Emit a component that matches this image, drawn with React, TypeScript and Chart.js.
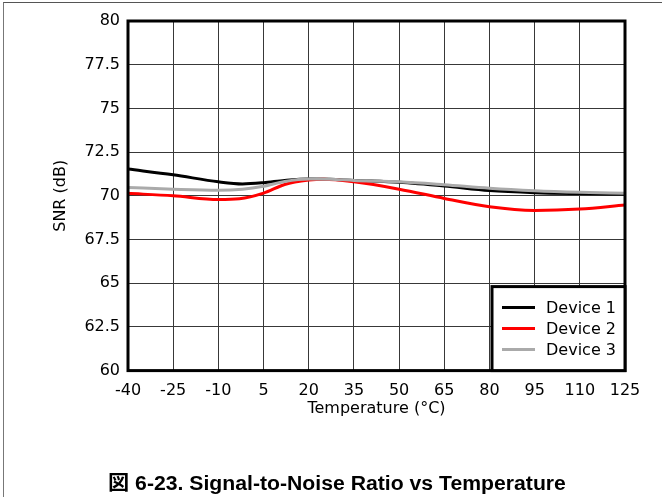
import React, { useEffect, useRef } from "react";
import { Chart, registerables } from "chart.js";

Chart.register(...registerables);

const seriesLabels = ["Device 1", "Device 2", "Device 3"];
const seriesColors = ["#000000", "#ff0000", "#aaaaaa"];

const device1Temp = [-40, -25, -10, -2, 5, 12, 20, 27, 35, 50, 65, 80, 95, 110, 125];
const device1Snr = [71.53, 71.2, 70.8, 70.68, 70.75, 70.88, 70.96, 70.95, 70.88, 70.77, 70.56, 70.3, 70.18, 70.13, 70.1];

const device2Temp = [-40, -25, -10, -3, 5, 12, 20, 25, 35, 50, 65, 80, 95, 110, 125];
const device2Snr = [70.14, 70.0, 69.79, 69.83, 70.15, 70.65, 70.9, 70.95, 70.8, 70.38, 69.85, 69.37, 69.16, 69.24, 69.47];

const device3Temp = [-40, -25, -10, -2, 5, 12, 20, 27, 35, 50, 65, 80, 95, 110, 125];
const device3Snr = [70.48, 70.38, 70.32, 70.38, 70.55, 70.82, 70.96, 70.95, 70.88, 70.8, 70.63, 70.43, 70.29, 70.2, 70.14];

const xTicks = [-40, -25, -10, 5, 20, 35, 50, 65, 80, 95, 110, 125];
const yTicks = [60, 62.5, 65, 67.5, 70, 72.5, 75, 77.5, 80];

const xTitle = "Temperature (°C)";
const yTitle = "SNR (dB)";
const caption = "図 6-23. Signal-to-Noise Ratio vs Temperature";

const FONT = "'DejaVu Sans', 'Liberation Sans', Arial, sans-serif";

const frameAndLegend = {
  id: "frameAndLegend",
  afterDatasetsDraw(chart: any) {
    const { ctx, chartArea } = chart;
    const { left, top, right, bottom } = chartArea;
    ctx.save();
    ctx.strokeStyle = "#000";
    ctx.lineWidth = 3;
    ctx.strokeRect(left, top, right - left, bottom - top);

    // legend box
    const bw = 133;
    const bh = 84;
    const bx = right - bw;
    const by = bottom - bh;
    ctx.fillStyle = "#fff";
    ctx.fillRect(bx, by, bw, bh);
    ctx.lineWidth = 3;
    ctx.strokeRect(bx, by, bw, bh);

    ctx.font = "16px " + FONT;
    ctx.textBaseline = "middle";
    ctx.textAlign = "left";
    chart.data.datasets.forEach((ds: any, i: number) => {
      const y = by + 21 + i * 21;
      ctx.strokeStyle = ds.borderColor;
      ctx.lineWidth = 3;
      ctx.beginPath();
      ctx.moveTo(bx + 10, y);
      ctx.lineTo(bx + 43, y);
      ctx.stroke();
      ctx.fillStyle = "#000";
      ctx.fillText(ds.label, bx + 54, y + 1);
    });
    ctx.restore();
  },
};

export default function App() {
  const ref = useRef<HTMLCanvasElement | null>(null);

  useEffect(() => {
    if (!ref.current) return;
    const temps = [device1Temp, device2Temp, device3Temp];
    const snrs = [device1Snr, device2Snr, device3Snr];
    const chart = new Chart(ref.current, {
      type: "line",
      data: {
        datasets: seriesLabels.map((label, i) => ({
          label,
          data: temps[i].map((t, j) => ({ x: t, y: snrs[i][j] })),
          borderColor: seriesColors[i],
          backgroundColor: seriesColors[i],
          borderWidth: 3,
          pointRadius: 0,
          cubicInterpolationMode: "monotone" as const,
          fill: false,
          order: 2 - i,
        })),
      },
      options: {
        responsive: false,
        animation: false,
        layout: { padding: { left: 40, right: 37, top: 21, bottom: 78.4 } },
        plugins: {
          legend: { display: false },
          tooltip: { enabled: false },
        },
        scales: {
          x: {
            type: "linear",
            min: -40,
            max: 125,
            afterBuildTicks: (scale: any) => {
              scale.ticks = xTicks.map((v) => ({ value: v }));
            },
            afterFit: (scale: any) => {
              scale.height = 48;
            },
            grid: { color: "#383838", lineWidth: 1, drawTicks: false },
            border: { display: false },
            ticks: {
              color: "#000",
              padding: 11,
              maxRotation: 0,
              autoSkip: false,
              font: { family: FONT, size: 16 },
            },
            title: {
              display: true,
              text: xTitle,
              color: "#000",
              padding: 0,
              font: { family: FONT, size: 16 },
            },
          },
          y: {
            type: "linear",
            min: 60,
            max: 80,
            afterBuildTicks: (scale: any) => {
              scale.ticks = yTicks.map((v) => ({ value: v }));
            },
            afterFit: (scale: any) => {
              scale.width = 88;
            },
            grid: { color: "#383838", lineWidth: 1, drawTicks: false },
            border: { display: false },
            ticks: {
              color: "#000",
              padding: 8,
              autoSkip: false,
              font: { family: FONT, size: 16 },
            },
            title: {
              display: true,
              text: yTitle,
              color: "#000",
              padding: { top: 11, bottom: 0 },
              font: { family: FONT, size: 16 },
            },
          },
        },
      },
      plugins: [frameAndLegend],
    });
    return () => chart.destroy();
  }, []);

  return (
    <div
      style={{
        position: "absolute",
        left: 0,
        top: 0,
        width: 662,
        height: 497,
        background: "#fff",
        overflow: "hidden",
      }}
    >
      <div
        style={{
          position: "absolute",
          left: 3,
          top: 2,
          width: 700,
          height: 600,
          borderTop: "1px solid #555",
          borderLeft: "1px solid #777",
        }}
      />
      <canvas
        ref={ref}
        width={662}
        height={497}
        style={{ position: "absolute", left: 0, top: 0, width: 662, height: 497 }}
      />
      <div
        style={{
          position: "absolute",
          left: 108,
          top: 471,
          whiteSpace: "nowrap",
          fontFamily: "'Liberation Sans', 'Noto Sans CJK JP', sans-serif",
          fontWeight: "bold",
          fontSize: 20,
          lineHeight: "24px",
          color: "#000",
          transform: "scaleX(1.06)",
          transformOrigin: "left center",
        }}
      >
        {caption}
      </div>
    </div>
  );
}
